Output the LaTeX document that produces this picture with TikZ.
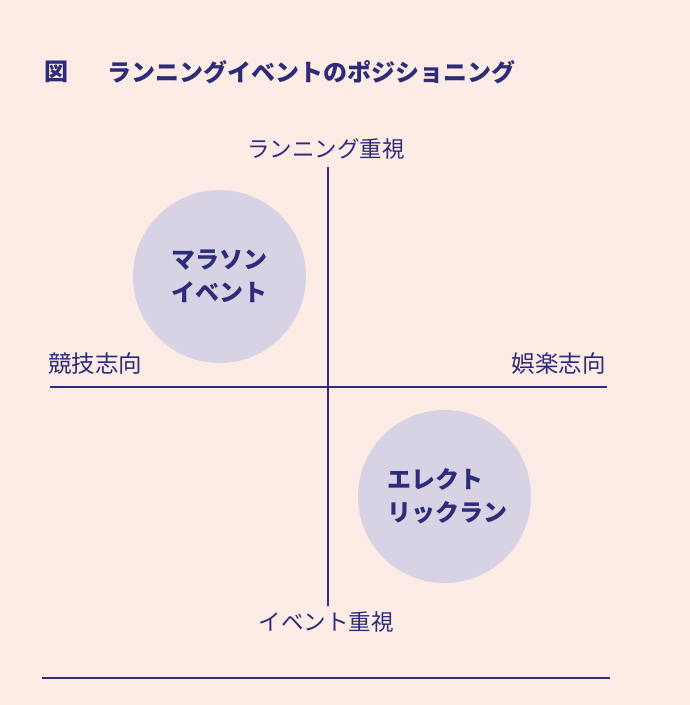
\documentclass[tikz,border=0pt]{standalone}
\usepackage{fontspec}
\setmainfont{Noto Sans CJK JP}
\definecolor{bgpink}{HTML}{FCECE5}
\definecolor{navy}{HTML}{2E2C7A}
\definecolor{lav}{HTML}{D7D3E5}
\begin{document}
\begin{tikzpicture}[x=1pt,y=-1pt,
  axis/.style={draw=navy,line width=1.2pt},
  blob/.style={circle,fill=lav,minimum size=173pt,inner sep=0pt},
  lbl/.style={text=navy,font=\fontsize{22.5}{25}\selectfont,inner sep=0pt},
  sidelbl/.style={text=navy,font=\fontsize{23.5}{26}\selectfont,inner sep=0pt},
  blobtext/.style={text=navy,font=\fontsize{24}{33}\selectfont\bfseries,align=left,inner sep=0pt},
  ttl/.style={text=navy,font=\fontsize{24}{27}\selectfont\bfseries,inner sep=0pt,anchor=west}]
\fill[bgpink] (0,0) rectangle (690,705);
\useasboundingbox (0,0) rectangle (690,705);
\node[ttl] (fig) at (44,72) {図};
\node[ttl] (title) at (107,72) {ランニングイベントのポジショニング};
\coordinate (vt) at (328,167);
\coordinate (vb) at (328,606);
\coordinate (hl) at (50,387);
\coordinate (hr) at (607,387);
\node[blob] (c1) at (219.5,276.5) {};
\node[blob] (c2) at (444.5,496.5) {};
\draw[axis] (vt) -- (vb);
\draw[axis] (hl) -- (hr);
\node[lbl] (top) at (326,149) {ランニング重視};
\node[lbl] (bot) at (326,622) {イベント重視};
\node[sidelbl,anchor=west] (left) at (48,364) {競技志向};
\node[sidelbl,anchor=east] (right) at (606,364) {娯楽志向};
\node[blobtext] (t1) at (c1) {マラソン\\イベント};
\node[blobtext] (t2) at (447,496.5) {エレクト\\リックラン};
\coordinate (bl) at (42,678);
\coordinate (br) at (610,678);
\draw[axis] (bl) -- (br);
\end{tikzpicture}
\end{document}
